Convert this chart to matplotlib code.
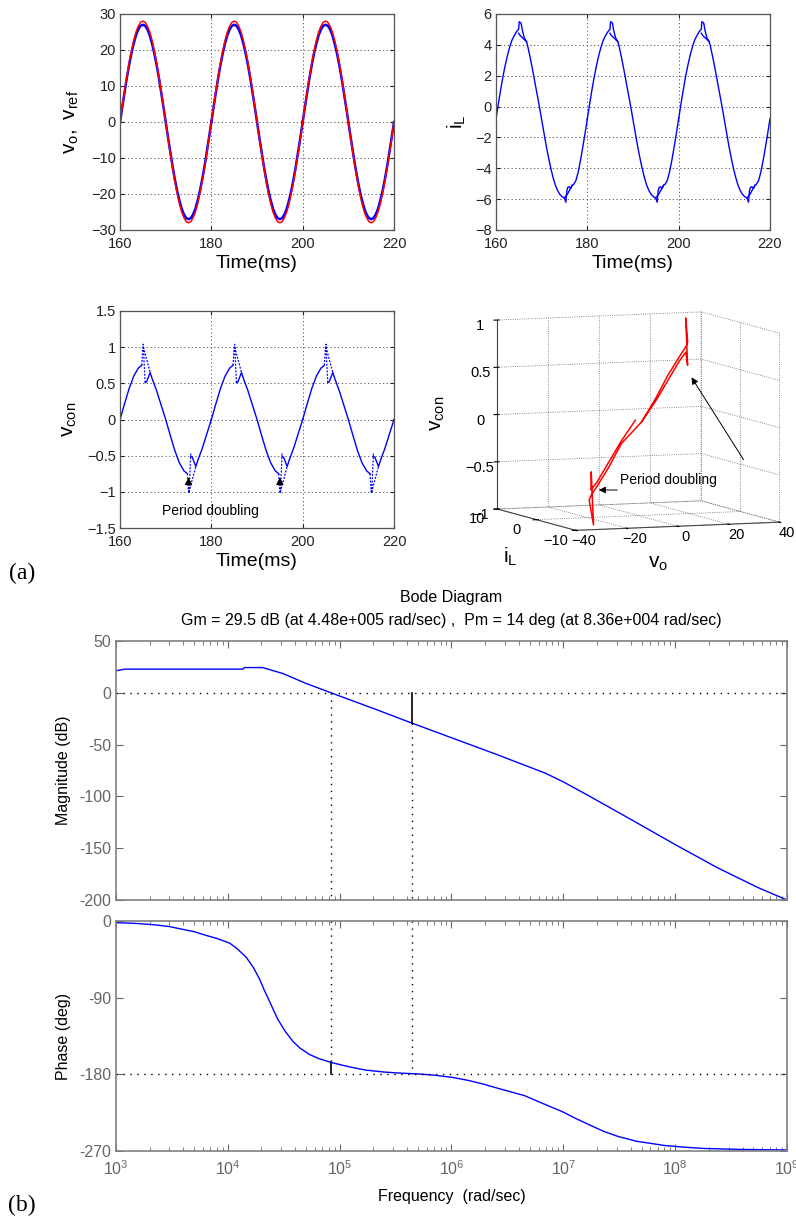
"""
Recreation of a two-part figure: (a) time-domain waveforms and a 3D
state-space trajectory, (b) loop-gain Bode diagram with margins.
"""
import matplotlib

matplotlib.use("Agg")
import matplotlib.pyplot as plt
import numpy as np
from matplotlib.patches import FancyArrowPatch
from matplotlib.ticker import FixedLocator, LogLocator, NullFormatter, MultipleLocator

plt.rcParams["font.family"] = ["Liberation Sans", "DejaVu Sans"]
plt.rcParams["mathtext.fontset"] = "custom"
plt.rcParams["mathtext.rm"] = "Liberation Sans"
plt.rcParams["mathtext.it"] = "Liberation Sans"
plt.rcParams["mathtext.bf"] = "Liberation Sans:bold"

# ---------------- data (one 20 ms period) ----------------
T_START = 160
PERIOD = 20
N_PERIODS = 3

wave_t = [0, 0.5, 1, 1.5, 2, 2.5, 3, 3.5, 4, 4.5, 5, 5.5, 6, 6.5, 7, 7.5, 8, 8.5, 9, 9.5,
          10, 10.5, 11, 11.5, 12, 12.5, 13, 13.5, 14, 14.5, 15, 15.5, 16, 16.5, 17,
          17.5, 18, 18.5, 19, 19.5, 20]
vref_v = [0, 4.4, 8.7, 12.7, 16.5, 19.8, 22.7, 25.0, 26.6, 27.7, 28.0, 27.7, 26.6,
          25.0, 22.7, 19.8, 16.5, 12.7, 8.7, 4.4, 0, -4.4, -8.7, -12.7, -16.5, -19.8,
          -22.7, -25.0, -26.6, -27.7, -28.0, -27.7, -26.6, -25.0, -22.7, -19.8, -16.5,
          -12.7, -8.7, -4.4, 0]
vo_v = [0, 4.2, 8.3, 12.3, 15.9, 19.1, 21.8, 24.1, 25.7, 26.7, 27.0, 26.7, 25.7,
        24.1, 21.8, 19.1, 15.9, 12.3, 8.3, 4.2, 0, -4.2, -8.3, -12.3, -15.9, -19.1,
        -21.8, -24.1, -25.7, -26.7, -27.0, -26.7, -25.7, -24.1, -21.8, -19.1, -15.9,
        -12.3, -8.3, -4.2, 0]

iL_t = [0, 0.5, 1.0, 1.5, 2.0, 2.5, 3.0, 3.5, 4.0, 4.5, 4.95, 5.1, 5.5, 5.8, 6.2,
        6.7, 7.0, 7.5, 8.0, 8.5, 9.0, 9.5, 10.0, 10.5, 11.0, 11.5, 12.0, 12.5, 13.0,
        13.5, 14.0, 14.5, 15.0, 15.3, 15.5, 15.7, 16.0, 16.4, 16.7, 17.0, 17.5, 18.0,
        18.5, 19.0, 19.5, 20]
iL_v = [-0.8, 0.15, 1.05, 1.9, 2.65, 3.3, 3.85, 4.3, 4.6, 4.85, 5.0, 5.5, 5.4, 4.9,
        4.45, 4.2, 3.85, 3.15, 2.4, 1.6, 0.8, 0.0, -0.85, -1.7, -2.55, -3.3, -4.0,
        -4.6, -5.1, -5.45, -5.7, -5.85, -5.95, -6.2, -5.5, -5.25, -5.2, -5.3, -5.1,
        -5.05, -4.8, -4.25, -3.5, -2.65, -1.75, -0.8]
iL_loop_t = [4.95, 5.3, 6.7, None, 15.0, 15.6, 16.7]
iL_loop_v = [4.75, 4.6, 4.2, None, -5.9, -5.7, -5.1]

vcon_t = [0, 1, 2, 3, 4, 4.75, None, 5.5, 5.8, 6.6, 7, 8, 9, 10, 11, 12, 13,
          14, 14.75, None, 15.5, 15.8, 16.6, 17, 18, 19, 20]
vcon_v = [0, 0.22, 0.43, 0.6, 0.71, 0.75, None, 0.51, 0.52, 0.65, 0.57, 0.4, 0.2, 0,
          -0.22, -0.43, -0.6, -0.71, -0.75, None, -0.51, -0.52, -0.65, -0.57,
          -0.4, -0.2, 0]
vcon_spike_t = [4.75, 5.0, 5.1, 5.3, 5.5, None, 5.1, 6.6, None,
                14.75, 15.0, 15.1, 15.3, 15.5, None, 15.1, 16.6]
vcon_spike_v = [0.75, 1.0, 1.04, 0.75, 0.51, None, 1.0, 0.65, None,
                -0.75, -1.0, -1.02, -0.75, -0.45, None, -1.0, -0.65]
arrow_t = [175, 195]

# 3D trajectory (v_o, i_L, v_con) over one period
traj_vo = [0, 8.3, 15.9, 21.9, 25.7, 27.0, 27.0, 26.5, 25.7, 21.9, 15.9, 8.3, 0,
           -8.3, -15.9, -21.9, -25.7, -27.0, -27.0, -26.5, -25.7, -21.9, -15.9, -8.3, 0]
traj_iL = [-0.8, 1.0, 2.9, 4.0, 4.6, 5.0, 5.5, 4.7, 4.6, 3.8, 2.6, 0.9, -0.8,
           -1.0, -2.9, -4.0, -4.6, -5.0, -6.1, -5.2, -4.6, -3.8, -2.6, -0.9, 0.8]
traj_vcon = [0, 0.22, 0.43, 0.6, 0.71, 0.75, 1.0, 0.51, 0.65, 0.57, 0.4, 0.2, 0,
             -0.22, -0.43, -0.6, -0.71, -0.75, -1.0, -0.45, -0.65, -0.57, -0.4, -0.2, 0]
vo_ticks = [-40, -20, 0, 20, 40]
iL_ticks = [-10, 0, 10]
vcon_ticks = [-1, -0.5, 0, 0.5, 1]

# Bode diagram
mag_w = [1e3, 1.2e3, 1.37e4, 1.4e4, 2.05e4, 3.1e4, 5e4, 8.36e4, 1.3e5, 2.1e5,
         3.4e5, 4.48e5, 1.16e6, 2.6e6, 6.9e6, 1e7, 1.66e7, 4.06e7, 1e8, 2.4e8,
         5.5e8, 1e9]
mag_db = [21.2, 22.8, 22.8, 24.3, 24.3, 18.6, 9, 0, -7.7, -16,
          -24.6, -29.5, -46, -60, -77.6, -86, -99, -122.5, -146.5, -169, -188, -200]
phase_w = [1e3, 1.5e3, 2.15e3, 3e3, 3.7e3, 5e3, 6.4e3, 8e3, 1.04e4, 1.2e4, 1.46e4,
           1.7e4, 1.92e4, 2.1e4, 2.35e4, 2.55e4, 2.79e4, 3.2e4, 3.8e4, 4.4e4,
           5.35e4, 6.5e4, 8.36e4, 1.2e5, 1.7e5, 2.5e5, 3.4e5, 5e5, 7e5, 1.01e6,
           1.4e6, 1.87e6, 2.7e6, 4.5e6, 6.5e6, 9.7e6, 1.3e7, 1.66e7, 2.3e7, 3.1e7,
           4.5e7, 8e7, 1.2e8, 1.8e8, 4e8, 1e9]
phase_deg = [-1.9, -2.8, -4.3, -6.5, -9, -12.5, -16.9, -20.5, -26, -32, -42.5,
             -55, -68, -80, -93.7, -104, -115, -128, -141, -149,
             -156.6, -161.5, -166, -171, -175, -177.3, -178.5, -179.5, -181, -183.5,
             -187, -191, -197, -205, -214, -223.6, -232, -238.5, -247, -253,
             -258.5, -263.5, -265.5, -267, -268.2, -268.8]
gm_w, gm_db = 4.48e5, 29.5
pm_w, pm_deg = 8.36e4, 14


def tile(t_per, v_per):
    """Repeat one period over the shown window; None breaks the line."""
    t_all, v_all = [], []
    for k in range(N_PERIODS):
        for t, v in zip(t_per, v_per):
            if t is None:
                t_all.append(np.nan)
                v_all.append(np.nan)
            else:
                t_all.append(t + T_START + k * PERIOD)
                v_all.append(v)
        t_all.append(np.nan)
        v_all.append(np.nan)
    return np.array(t_all), np.array(v_all)


def num_fmt(x, pos=None):
    return f"{x:g}".replace("-", "\u2212")


def style_time_axes(ax, ylim, ystep):
    ax.set_xlim(160, 220)
    ax.set_ylim(*ylim)
    ax.xaxis.set_major_locator(MultipleLocator(20))
    ax.yaxis.set_major_locator(MultipleLocator(ystep))
    ax.yaxis.set_major_formatter(plt.FuncFormatter(num_fmt))
    ax.grid(True, color="#444444", linestyle=(0, (1.5, 3)), linewidth=0.6)
    ax.tick_params(direction="in", length=3, labelsize=10.5, colors="#222222",
                   top=True, right=True)
    ax.tick_params(axis="x", pad=5)
    ax.tick_params(axis="y", pad=3)
    for s in ax.spines.values():
        s.set_color("#555555")
        s.set_linewidth(0.9)
    ax.set_xlabel("Time(ms)", fontsize=14, labelpad=3)


fig = plt.figure(figsize=(7.96, 12.22), dpi=100)

# ---- v_o, v_ref ----
ax1 = fig.add_axes([0.1508, 0.8118, 0.3442, 0.1768])
t, v = tile(wave_t, vo_v)
ax1.plot(t, v, color="#0000ff", lw=1.8)
t, v = tile(wave_t, vref_v)
ax1.plot(t, v, color="#ff0000", lw=1.1)
style_time_axes(ax1, (-30, 30), 10)
ax1.set_ylabel(r"$\mathregular{v_o,\ v_{ref}}$", fontsize=15, labelpad=7)

# ---- i_L ----
ax2 = fig.add_axes([0.6231, 0.8118, 0.3442, 0.1768])
t, v = tile(iL_t, iL_v)
ax2.plot(t, v, color="#0000ff", lw=1.0)
t, v = tile(iL_loop_t, iL_loop_v)
ax2.plot(t, v, color="#0000ff", lw=1.0)
style_time_axes(ax2, (-8, 6), 2)
ax2.set_ylabel(r"$\mathregular{i_L}$", fontsize=15, labelpad=5)

# ---- v_con ----
ax3 = fig.add_axes([0.1508, 0.5679, 0.3442, 0.1776])
t, v = tile(vcon_t, vcon_v)
ax3.plot(t, v, color="#0000ff", lw=1.0)
t, v = tile(vcon_spike_t, vcon_spike_v)
ax3.plot(t, v, color="#0000ff", lw=0.9, linestyle=(0, (1.5, 1.2)))
style_time_axes(ax3, (-1.5, 1.5), 0.5)
ax3.set_ylabel(r"$\mathregular{v_{con}}$", fontsize=15, labelpad=6)
for ta in arrow_t:
    ax3.annotate("", xy=(ta, -0.76), xytext=(ta, -0.93),
                 arrowprops=dict(arrowstyle="-|>", color="k", lw=0.8,
                                 mutation_scale=11))
ax3.text(169.2, -1.26, "Period doubling", fontsize=10, va="center")

# ---- 3D trajectory ----
ax4 = fig.add_axes([0.5626, 0.545, 0.47, 0.215], projection="3d", proj_type="ortho")
ax4.view_init(elev=6, azim=-111)
ax4.set_box_aspect((1, 1, 0.87), zoom=1.34)
ax4.plot(traj_vo, traj_iL, traj_vcon, color="red", lw=1.1)
ax4.set_xlim(-40, 40)
ax4.set_ylim(-10, 10)
ax4.set_zlim(-1, 1)
ax4.set_xticks(vo_ticks)
ax4.set_yticks(iL_ticks)
ax4.set_zticks(vcon_ticks)
ax4.xaxis.set_major_formatter(NullFormatter())
ax4.yaxis.set_major_formatter(NullFormatter())
ax4.xaxis.set_tick_params(labelbottom=False)
ax4.yaxis.set_tick_params(labelbottom=False)
ax4.zaxis.set_major_formatter(plt.FuncFormatter(num_fmt))
for a in (ax4.xaxis, ax4.yaxis, ax4.zaxis):
    a.set_pane_color((1, 1, 1, 0))
    a.pane.set_edgecolor("none")
    a._axinfo["grid"].update(color="#666666", linestyle=":", linewidth=0.6)
    a.line.set_color("#444444")
ax4.zaxis.set_tick_params(labelsize=10.5, pad=-2)
# tick labels of the floor axes sit below and to the side, as in the original
for v in iL_ticks:
    ax4.text(-48, v, -1.1, num_fmt(v), fontsize=10.5, ha="center", va="center")
for v in vo_ticks:
    ax4.text(v + 3, -10, -1.12, num_fmt(v), fontsize=10.5, ha="center", va="center")
fig.text(0.549, 0.662, r"$\mathregular{v_{con}}$", fontsize=15, rotation=90,
         ha="center", va="center")
fig.text(0.641, 0.544, r"$\mathregular{i_L}$", fontsize=15, ha="center", va="center")
fig.text(0.827, 0.539, r"$\mathregular{v_o}$", fontsize=15, ha="center", va="center")
fig.text(0.779, 0.6072, "Period doubling", fontsize=10, va="center")
fig.add_artist(FancyArrowPatch(
    (620 / 796, 1 - 490 / 1222), (596 / 796, 1 - 490 / 1222),
    transform=fig.transFigure, arrowstyle="-|>", color="k", lw=0.7,
    mutation_scale=10))
fig.add_artist(FancyArrowPatch(
    (745 / 796, 1 - 462 / 1222), (690 / 796, 1 - 375 / 1222),
    transform=fig.transFigure, arrowstyle="-|>", color="k", lw=0.7,
    mutation_scale=10))

fig.text(0.028, 1 - 573 / 1222, "(a)", fontsize=17, family="Liberation Serif",
         va="center", ha="center")
fig.text(0.028, 1 - 1205 / 1222, "(b)", fontsize=17, family="Liberation Serif",
         va="center", ha="center")

# ---- Bode ----
BODE_GRAY = "#666666"


def style_bode(ax):
    ax.set_xscale("log")
    ax.set_xlim(1e3, 1e9)
    ax.xaxis.set_major_locator(FixedLocator([1e3, 1e4, 1e5, 1e6, 1e7, 1e8, 1e9]))
    ax.xaxis.set_minor_locator(LogLocator(base=10, subs=np.arange(2, 10), numticks=12))
    ax.tick_params(which="both", direction="in", top=True, right=True,
                   colors=BODE_GRAY, labelsize=11.5)
    ax.tick_params(which="major", length=5)
    ax.tick_params(which="minor", length=3)
    ax.tick_params(axis="x", pad=6)
    ax.yaxis.set_major_formatter(plt.FuncFormatter(lambda x, p: f"{x:g}"))
    for s in ax.spines.values():
        s.set_color("#808080")
        s.set_linewidth(1.2)


axm = fig.add_axes([0.1457, 0.2635, 0.843, 0.212])
axm.plot(mag_w, mag_db, color="#0000ff", lw=1.0)
axm.axhline(0, color="k", linestyle=(0, (1, 4)), lw=1.0)
axm.plot([gm_w, gm_w], [0, -gm_db], color="k", lw=1.2)
axm.plot([gm_w, gm_w], [-gm_db, -200], color="k", linestyle=(0, (1, 4)), lw=1.0)
axm.plot([pm_w, pm_w], [0, -200], color="k", linestyle=(0, (1, 4)), lw=1.0)
style_bode(axm)
axm.set_ylim(-200, 50)
axm.set_yticks([50, 0, -50, -100, -150, -200])
axm.xaxis.set_major_formatter(NullFormatter())
axm.set_ylabel("Magnitude (dB)", fontsize=11.5, labelpad=6)

axp = fig.add_axes([0.1457, 0.0581, 0.843, 0.1882])
axp.plot(phase_w, phase_deg, color="#0000ff", lw=1.0)
axp.axhline(-180, color="k", linestyle=(0, (1, 4)), lw=1.0)
axp.plot([pm_w, pm_w], [0, -180 + pm_deg], color="k", linestyle=(0, (1, 4)), lw=1.0)
axp.plot([pm_w, pm_w], [-180 + pm_deg, -180], color="k", lw=1.2)
axp.plot([gm_w, gm_w], [0, -180], color="k", linestyle=(0, (1, 4)), lw=1.0)
style_bode(axp)
axp.set_ylim(-270, 0)
axp.set_yticks([0, -90, -180, -270])
axp.set_ylabel("Phase (deg)", fontsize=11.5, labelpad=6)
axp.set_xlabel("Frequency  (rad/sec)", fontsize=11.5, labelpad=8)

fig.text(0.567, 1 - 598 / 1222, "Bode Diagram", fontsize=11.5, ha="center", va="center")
fig.text(0.567, 1 - 620 / 1222,
         "Gm = 29.5 dB (at 4.48e+005 rad/sec) ,  Pm = 14 deg (at 8.36e+004 rad/sec)",
         fontsize=11.5, ha="center", va="center")

fig.savefig("out.png", dpi=100)
